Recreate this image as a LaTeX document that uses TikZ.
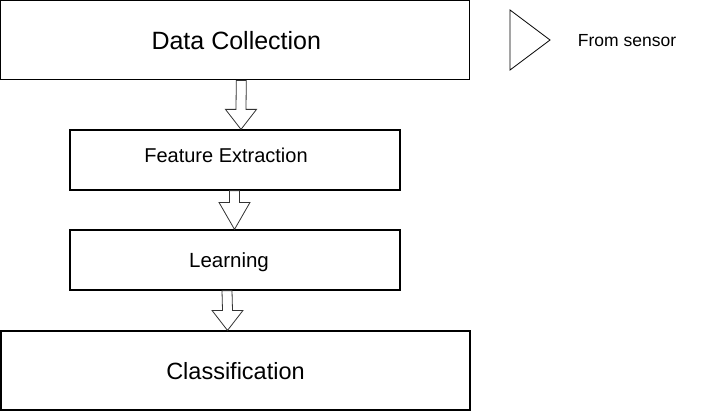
\documentclass[tikz,border=0pt]{standalone}
\usepackage{fontspec}
\setmainfont{Liberation Sans}
\usetikzlibrary{calc}

\tikzset{
  stagebox/.style={draw,line width=1.2pt,inner sep=0pt,text depth=0pt},
  bigbox/.style={stagebox,minimum width=469pt,minimum height=79pt,text height=17.5pt,font=\fontsize{24}{28}\selectfont},
  smallbox/.style={stagebox,minimum width=330pt,minimum height=60pt,text height=14.4pt,font=\fontsize{20}{24}\selectfont},
  blockarr/.style={draw=black!80,line width=0.8pt,line join=miter}
}

% hollow block arrow: from, to, x offset, head length
\newcommand{\blockarrow}[4]{%
  \draw[blockarr] ($(#1.south)+(#3-5,0)$) -- ($(#2.north)+(#3-5,-#4)$)
    -- ($(#2.north)+(#3-15.5,-#4)$) -- ($(#2.north)+(#3,0)$)
    -- ($(#2.north)+(#3+15.5,-#4)$) -- ($(#2.north)+(#3+5,-#4)$)
    -- ($(#1.south)+(#3+5,0)$) -- cycle;}

\begin{document}
\begin{tikzpicture}[x=1pt,y=-1pt]
  \useasboundingbox (0,0) rectangle (721,412);

  \node[bigbox,font=\fontsize{25}{29}\selectfont,text height=18pt] (collect) at (235.3,40.3) {Data Collection\kern-2pt};
  \node[smallbox,text depth=9pt] (feature) at (235,160) {Feature Extraction\kern18pt};
  \node[smallbox,font=\fontsize{20.5}{24}\selectfont] (learn) at (235,260) {Learning\kern12pt};
  \node[bigbox,font=\fontsize{23.5}{28}\selectfont] (classify) at (235.5,370.5) {Classification};

  \blockarrow{collect}{feature}{6}{20}
  \blockarrow{feature}{learn}{-0.5}{27}
  \blockarrow{learn}{classify}{-8}{20}

  % legend
  \draw[line width=0.8pt] (510,10) -- (550,40) -- (510,70) -- cycle;
  \node[font=\fontsize{17.5}{21}\selectfont] (sensor) at (627,41) {From sensor};
\end{tikzpicture}
\end{document}
